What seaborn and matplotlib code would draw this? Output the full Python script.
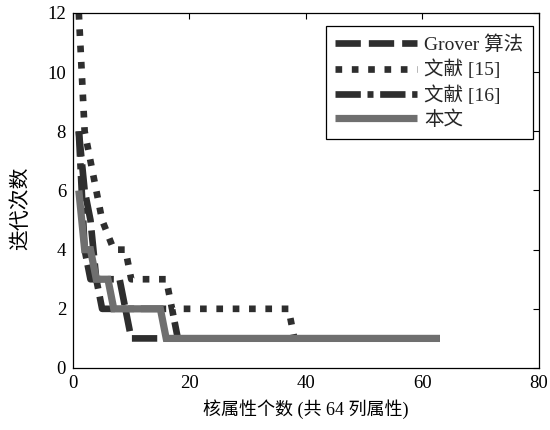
import matplotlib
matplotlib.use("Agg")
import matplotlib.pyplot as plt
import seaborn as sns
import pandas as pd

# ---- data (breakpoints) ----
grover_x = [1, 2, 3, 4, 5, 9, 10, 63]
grover_y = [8, 6, 5, 3, 2, 2, 1, 1]

ref15_x = [1, 2, 3, 4, 5, 7, 9, 10, 16, 17, 37, 38, 63]
ref15_y = [12, 8, 7, 6, 5, 4, 4, 3, 3, 2, 2, 1, 1]

ref16_x = [1, 2, 3, 8, 9, 17, 18, 63]
ref16_y = [8, 4, 3, 3, 2, 2, 1, 1]

ours_x = [1, 2, 3, 4, 6, 7, 15, 16, 63]
ours_y = [6, 4, 4, 3, 3, 2, 2, 1, 1]

labels = ["Grover 算法", "文献 [15]", "文献 [16]", "本文"]
x_ticks = [0, 20, 40, 60, 80]
y_ticks = [0, 2, 4, 6, 8, 10, 12]
xlabel = "核属性个数 (共 64 列属性)"
ylabel = "迭代次数"

sns.set_theme(style="white")
plt.rcParams["font.family"] = ["Liberation Serif", "Noto Sans CJK SC"]
plt.rcParams["axes.unicode_minus"] = False

fig = plt.figure(figsize=(5.5, 4.3), dpi=100)
ax = fig.add_axes([0.1327, 0.1442, 0.8473, 0.8256])

series = [
    (grover_x, grover_y, labels[0], "#2e2e2e", 4.8, (0, (3.8, 1.2))),
    (ref15_x, ref15_y, labels[1], "#2e2e2e", 4.8, (0, (1.0, 1.45))),
    (ref16_x, ref16_y, labels[2], "#2e2e2e", 4.8, (0, (3.8, 1.0, 0.9, 1.0))),
    (ours_x, ours_y, labels[3], "#6f6f6f", 5.2, "-"),
]

for xs, ys, lab, col, lw, ls in series:
    df = pd.DataFrame({"x": xs, "y": ys})
    sns.lineplot(data=df, x="x", y="y", ax=ax, color=col, linewidth=lw,
                 linestyle=ls, label=lab, sort=False, estimator=None,
                 solid_capstyle="butt", dash_capstyle="butt",
                 solid_joinstyle="miter")

ax.set_xlim(0, 80)
ax.set_ylim(0, 12)
ax.set_xticks(x_ticks)
ax.set_yticks(y_ticks)
ax.tick_params(direction="in", length=4, width=0.8, top=True, right=True,
               labelsize=13.5, colors="black", pad=5)
for s in ax.spines.values():
    s.set_visible(True)
    s.set_color("black")
    s.set_linewidth(0.9)
ax.set_xlabel(xlabel, fontsize=13, color="black", labelpad=5)
ax.set_ylabel(ylabel, fontsize=15, color="black")
ax.yaxis.set_label_coords(-0.09, 0.45)
ax.grid(False)

leg = ax.legend(loc="upper right", bbox_to_anchor=(0.995, 0.975), fontsize=14,
                handlelength=4.2, handletextpad=0.35, labelspacing=0.3,
                borderpad=0.5, borderaxespad=0.2, fancybox=False,
                framealpha=1, edgecolor="black")
leg.get_frame().set_linewidth(0.9)

fig.savefig("out.png", dpi=100)
